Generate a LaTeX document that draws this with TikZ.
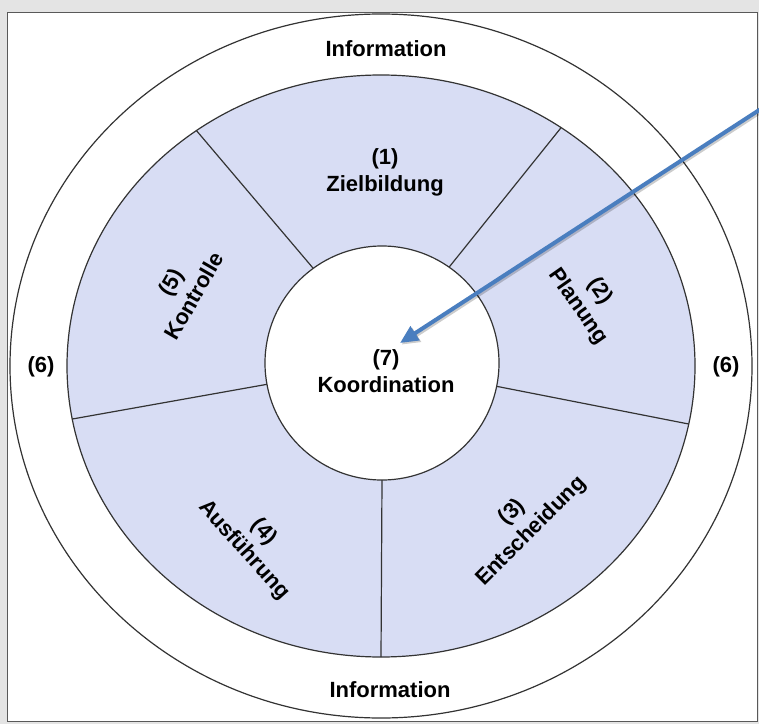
\documentclass[tikz,border=0pt]{standalone}
\usepackage{fontspec}
\setmainfont{Liberation Sans}
\usetikzlibrary{arrows.meta}
\definecolor{ringblue}{RGB}{216,221,244}
\definecolor{bggray}{RGB}{228,228,228}
\definecolor{arrowblue}{RGB}{74,126,191}
\tikzset{txt/.style={font=\bfseries\fontsize{11}{13.5}\selectfont, align=center, inner sep=0pt},
 rim/.style={draw=black!80, line width=0.6pt},
 pointer/.style={line width=2pt, -{Triangle[length=9pt,width=8pt]}},
 }

\begin{document}
\begin{tikzpicture}[x=0.5pt,y=0.5pt]
        \useasboundingbox (0,0) rectangle (759,724);
        \fill[bggray] (0,0) rectangle (759,724);
        \draw[fill=white, draw=black!65, line width=0.8pt] (7.5,2.5) rectangle (757.5,711.5);
        \coordinate (C) at (381,358);
        \coordinate (Ci) at (382,361);
        % rings
        \draw[rim] (C) ellipse [x radius=371, y radius=352];
        \draw[rim, fill=ringblue] (C) ellipse [x radius=314, y radius=291];
        \foreach \a in {126,55,-11.5,-90,190.5}
            \draw[rim] ([shift={(\a:117)}]Ci) -- ([shift={(\a:314 and 291)}]C);
        \draw[rim, fill=white] (Ci) circle [radius=117];
        % labels
        \node[txt] (infotop) at (386,675) {Information};
        \node[txt] (infobot) at (390,34) {Information};
        \node[txt] (sixl) at (41,357) {(6)};
        \node[txt] (sixr) at (726,357) {(6)};
        \node[txt] (ziel) at (385,552) {(1)\\Zielbildung};
        \node[txt, rotate=-55] (plan) at (589,425) {(2)\\Planung};
        \node[txt, rotate=45] (entsch) at (522,202) {(3)\\Entscheidung};
        \node[txt, rotate=-48] (ausf) at (254,183) {(4)\\Ausführung};
        \node[txt, rotate=60] (kontr) at (182,435) {(5)\\Kontrolle};
        \node[txt] (koord) at (386,353) {(7)\\Koordination};
        % arrow
        \coordinate (src) at (760,614.5);
        \coordinate (tip) at (400,381);
        \draw[pointer, black, opacity=0.2, transform canvas={shift={(0.8pt,-0.8pt)}}] (src) -- (tip);
        \draw[pointer, arrowblue] (src) -- (tip);
    \end{tikzpicture}
\end{document}
